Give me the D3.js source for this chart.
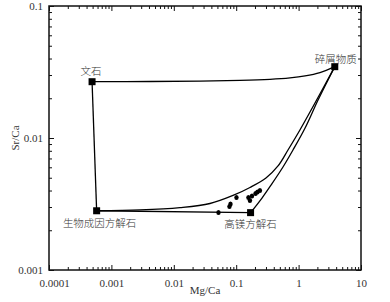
<!DOCTYPE html>
<html><head><meta charset="utf-8">
<script src="https://cdn.jsdelivr.net/npm/d3@7"></script>
<style>
html,body{margin:0;padding:0;background:#fff;}
svg{display:block;}
</style></head>
<body>
<script>
// ---- data ----
const xTickValues = [0.0001, 0.001, 0.01, 0.1, 1, 10];
const xTickLabels = ["0.0001", "0.001", "0.01", "0.1", "1", "10"];
const yTickValues = [0.001, 0.01, 0.1];
const yTickLabels = ["0.001", "0.01", "0.1"];

const endNames = ["文石", "生物成因方解石", "高镁方解石", "碎屑物质"];
const endMgCa = [0.00049, 0.00058, 0.17, 3.8];
const endSrCa = [0.0267, 0.00281, 0.00272, 0.0347];

// mixing curves: [Mg/Ca, Sr/Ca]
const curveAragDetrital = [[0.00049,0.0267],[0.00416,0.0268],[0.0263,0.0270],[0.115,0.0273],[0.348,0.0278],[0.728,0.0285],[1.27,0.0295],[2.2,0.0313],[3.8,0.0347]];
const lineAragBio = [[0.00049,0.0267],[0.00058,0.00281]];
const lineBioHighMg = [[0.00058,0.00281],[0.17,0.00272]];
const curveBioDetrital = [[0.00058,0.00281],[0.00287,0.00285],[0.01256,0.00297],[0.038,0.00319],[0.089,0.00367],[0.166,0.00422],[0.30,0.00498],[0.468,0.00614],[0.676,0.00811],[1.05,0.0115],[1.83,0.0184],[3.8,0.0347]];
const curveHighMgDetrital = [[0.17,0.00272],[0.259,0.00351],[0.371,0.00448],[0.562,0.00603],[0.813,0.00811],[1.27,0.0119],[2.05,0.0194],[3.8,0.0347]];

const sampleMgCa = [0.052, 0.078, 0.081, 0.101, 0.157, 0.166, 0.179, 0.204, 0.219, 0.240];
const sampleSrCa = [0.00273, 0.00303, 0.00316, 0.00354, 0.00354, 0.00336, 0.00364, 0.0038, 0.0039, 0.0040];

// ---- layout ----
const W = 390, H = 302;
const L = 49, R = 361, T = 6, B = 270;
const serif = "'Liberation Serif','Times New Roman',serif";
const cjk = "'Noto Sans CJK SC','Noto Sans CJK JP',sans-serif";

const svg = d3.select("body").append("svg").attr("width", W).attr("height", H);
svg.append("rect").attr("width", W).attr("height", H).attr("fill", "#fff");

const x = d3.scaleLog().domain([0.0001, 10]).range([L, R]);
const y = d3.scaleLog().domain([0.001, 0.1]).range([B, T]);

function minorTicks(domain) {
  const out = [];
  for (let e = Math.round(Math.log10(domain[0])); e < Math.round(Math.log10(domain[1])); e++) {
    for (let m = 2; m <= 9; m++) out.push(m * Math.pow(10, e));
  }
  return out;
}
const xMinor = minorTicks(x.domain());
const yMinor = minorTicks(y.domain());

const axisColor = "#111";
const g = svg.append("g");

// bottom axis (ticks inward)
const bottom = g.append("g").attr("transform", `translate(0,${B})`)
  .call(d3.axisBottom(x).tickValues(xTickValues).tickSize(-5).tickPadding(9).tickFormat((d,i)=>xTickLabels[i]));
bottom.selectAll(".tick text").filter((d,i)=>i===0).attr("dx", 5);
g.append("g").attr("transform", `translate(0,${B})`)
  .call(d3.axisBottom(x).tickValues(xMinor).tickSize(-3).tickFormat(""));
// top
g.append("g").attr("transform", `translate(0,${T})`)
  .call(d3.axisTop(x).tickValues(xTickValues).tickSize(-5).tickFormat(""));
g.append("g").attr("transform", `translate(0,${T})`)
  .call(d3.axisTop(x).tickValues(xMinor).tickSize(-3).tickFormat(""));
// left
const left = g.append("g").attr("transform", `translate(${L},0)`)
  .call(d3.axisLeft(y).tickValues(yTickValues).tickSize(-5).tickPadding(6).tickFormat((d,i)=>yTickLabels[i]));
g.append("g").attr("transform", `translate(${L},0)`)
  .call(d3.axisLeft(y).tickValues(yMinor).tickSize(-3).tickFormat(""));
// right
g.append("g").attr("transform", `translate(${R},0)`)
  .call(d3.axisRight(y).tickValues(yTickValues).tickSize(-5).tickFormat(""));
g.append("g").attr("transform", `translate(${R},0)`)
  .call(d3.axisRight(y).tickValues(yMinor).tickSize(-3).tickFormat(""));

g.selectAll(".domain").remove();
g.selectAll(".tick line").attr("stroke", axisColor).attr("stroke-width", 1);
g.selectAll(".tick text").attr("font-family", serif).attr("font-size", 11).attr("fill", "#333");

// frame
svg.append("rect").attr("x", L).attr("y", T).attr("width", R - L).attr("height", B - T)
  .attr("fill", "none").attr("stroke", axisColor).attr("stroke-width", 1.5);

// axis titles
svg.append("text").attr("x", (L + R) / 2).attr("y", 294).attr("text-anchor", "middle")
  .attr("font-family", serif).attr("font-size", 11).attr("fill", "#333").text("Mg/Ca");
svg.append("text").attr("transform", `translate(19,${(T + B) / 2}) rotate(-90)`).attr("text-anchor", "middle")
  .attr("font-family", serif).attr("font-size", 11).attr("fill", "#333").text("Sr/Ca");

// curves
const line = d3.line().x(d => x(d[0])).y(d => y(d[1]));
const smooth = d3.line().x(d => x(d[0])).y(d => y(d[1])).curve(d3.curveCatmullRom.alpha(0.5));
const lw = 1.3;
[curveAragDetrital, curveBioDetrital, curveHighMgDetrital].forEach(c => {
  svg.append("path").attr("d", smooth(c)).attr("fill", "none").attr("stroke", "#000").attr("stroke-width", lw);
});
[lineAragBio, lineBioHighMg].forEach(c => {
  svg.append("path").attr("d", line(c)).attr("fill", "none").attr("stroke", "#000").attr("stroke-width", lw);
});

// samples
svg.selectAll("ellipse.s").data(sampleMgCa).enter().append("ellipse")
  .attr("cx", (d, i) => x(d)).attr("cy", (d, i) => y(sampleSrCa[i]))
  .attr("rx", 2.2).attr("ry", 2.5).attr("fill", "#000");

// end members
const sq = 7;
svg.selectAll("rect.em").data(endMgCa).enter().append("rect")
  .attr("x", (d) => x(d) - sq / 2).attr("y", (d, i) => y(endSrCa[i]) - sq / 2)
  .attr("width", sq).attr("height", sq).attr("fill", "#000");

// labels
const labelDx = [-1, 3, 0, 1];
const labelDy = [-7, 16, 15, -4];
svg.selectAll("text.em").data(endNames).enter().append("text")
  .attr("x", (d, i) => x(endMgCa[i]) + labelDx[i])
  .attr("y", (d, i) => y(endSrCa[i]) + labelDy[i])
  .attr("text-anchor", "middle")
  .attr("font-family", cjk).attr("font-size", 10.5).attr("font-weight", 300).attr("fill", "#333")
  .text(d => d);
</script>
</body></html>
